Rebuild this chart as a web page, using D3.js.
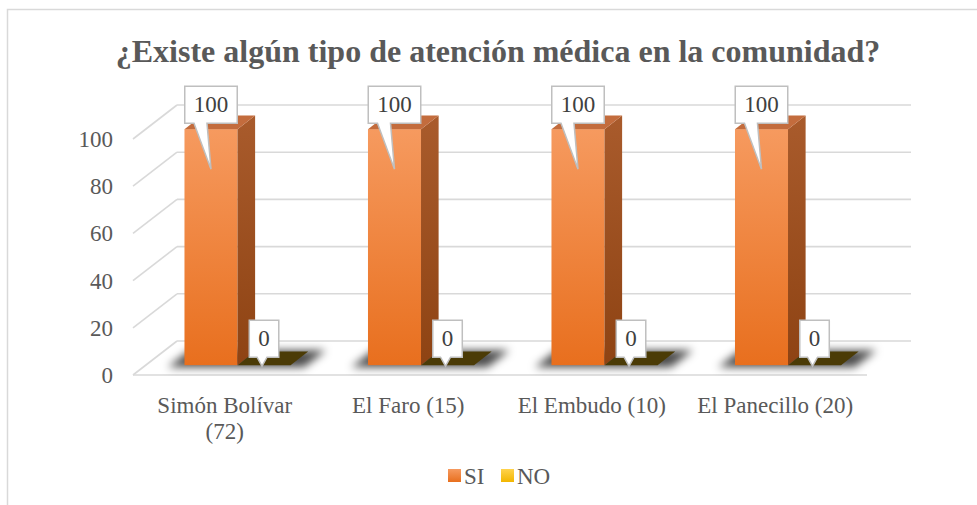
<!DOCTYPE html>
<html>
<head>
<meta charset="utf-8">
<script src="https://cdn.jsdelivr.net/npm/d3@7"></script>
<style>
  html, body { margin: 0; padding: 0; background: #fff; }
</style>
</head>
<body>
<div id="chart"></div>
<script>
// Chart data
const categories = ['Simón Bolívar (72)', 'El Faro (15)', 'El Embudo (10)', 'El Panecillo (20)']
const categoryLines = [['Simón Bolívar', '(72)'], ['El Faro (15)'], ['El Embudo (10)'], ['El Panecillo (20)']]
const seriesNames = ['SI', 'NO']
const siValues = [100, 100, 100, 100]
const noValues = [0, 0, 0, 0]
const yTicks = [0, 20, 40, 60, 80, 100]
const titleText = '¿Existe algún tipo de atención médica en la comunidad?'

// Layout
const W = 977, H = 505
const floor = {x0: 133, x1: 867, y: 375, dx: 44, dy: -34}
const barDepth = {t0: 0.29, t1: 0.69}
const serif = "'Liberation Serif', 'Times New Roman', 'DejaVu Serif', serif"
const fontSize = 23

const svg = d3.select('#chart').append('svg')
  .attr('width', W)
  .attr('height', H)
  .style('font-family', serif)

const defs = svg.append('defs')

function vGradient(id, top, bottom) {
  let g = defs.append('linearGradient').attr('id', id)
    .attr('x1', 0).attr('y1', 0).attr('x2', 0).attr('y2', 1)
  g.append('stop').attr('offset', '0%').attr('stop-color', top)
  g.append('stop').attr('offset', '100%').attr('stop-color', bottom)
}
vGradient('siFront', '#f69a5f', '#e86f1e')
vGradient('siSide', '#a95b2c', '#8e4313')
vGradient('noFront', '#ffd34d', '#f2b600')

defs.append('filter').attr('id', 'blur')
  .attr('x', '-50%').attr('y', '-50%').attr('width', '200%').attr('height', '200%')
  .append('feGaussianBlur').attr('stdDeviation', 4)

// frame
svg.append('rect')
  .attr('x', 7.5).attr('y', 9.5)
  .attr('width', 1100).attr('height', 700)
  .attr('fill', '#fff')
  .attr('stroke', '#d9d9d9')
  .attr('stroke-width', 1.5)

// title
svg.append('text')
  .attr('x', 498).attr('y', 62)
  .attr('text-anchor', 'middle')
  .attr('font-size', 32)
  .attr('font-weight', 'bold')
  .attr('fill', '#595959')
  .text(titleText)

// scales (front plane)
const y = d3.scaleLinear().domain([0, 100]).range([floor.y, 139])
const x = d3.scaleBand().domain(categories).range([floor.x0, floor.x1]).padding(0)
const xs = d3.scaleBand().domain(seriesNames).range([0, x.bandwidth()])
  .paddingInner(0).paddingOuter(0.73)

// point at depth t
const pt = (px, py, t) => [px + t * floor.dx, py + t * floor.dy]

// gridlines: side wall diagonals + back wall
const grid = svg.append('g').attr('stroke', '#d9d9d9').attr('stroke-width', 1.6).attr('fill', 'none')
yTicks.forEach(v => {
  let back = pt(floor.x0, y(v), 1)
  grid.append('line')
    .attr('x1', floor.x0).attr('y1', y(v))
    .attr('x2', back[0]).attr('y2', back[1])
  grid.append('line')
    .attr('x1', back[0]).attr('y1', back[1])
    .attr('x2', floor.x1 + floor.dx).attr('y2', back[1])
})
// floor front edge
grid.append('line')
  .attr('x1', floor.x0).attr('y1', floor.y)
  .attr('x2', floor.x1).attr('y2', floor.y)

// y tick labels
svg.append('g').selectAll('text')
  .data(yTicks)
  .enter()
  .append('text')
  .attr('x', 113)
  .attr('y', d => y(d) + 8)
  .attr('text-anchor', 'end')
  .attr('font-size', fontSize)
  .attr('fill', '#595959')
  .text(d => d)

// bar data
const bars = []
categories.forEach((c, i) => {
  bars.push({cat: c, series: 'SI', value: siValues[i]})
  bars.push({cat: c, series: 'NO', value: noValues[i]})
})

function barGeom(d) {
  let xa = x(d.cat) + xs(d.series)
  let xb = xa + xs.bandwidth()
  let a0 = pt(xa, y(0), barDepth.t0), b0 = pt(xb, y(0), barDepth.t0)
  let aV = pt(xa, y(d.value), barDepth.t0), bV = pt(xb, y(d.value), barDepth.t0)
  let ddx = (barDepth.t1 - barDepth.t0) * floor.dx
  let ddy = (barDepth.t1 - barDepth.t0) * floor.dy
  return {a0, b0, aV, bV, ddx, ddy}
}

const poly = pts => pts.map(p => p.join(',')).join(' ')

// shadows on floor
const shadows = svg.append('g').attr('filter', 'url(#blur)')
categories.forEach(c => {
  let xa = x(c) + xs('SI') - 14
  let xb = x(c) + xs('NO') + xs.bandwidth() + 16
  let p1 = pt(xa, y(0), barDepth.t0 - 0.06)
  let p2 = pt(xb, y(0), barDepth.t0 - 0.06)
  let p3 = pt(xb, y(0), barDepth.t1 + 0.04)
  let p4 = pt(xa, y(0), barDepth.t1 + 0.04)
  shadows.append('polygon')
    .attr('points', poly([p1, p2, p3, p4]))
    .attr('fill', '#000')
    .attr('opacity', 0.7)
})

// bars
const barG = svg.append('g')
bars.forEach(d => {
  let g = barGeom(d)
  if (d.value > 0) {
    barG.append('rect')
      .attr('x', g.aV[0]).attr('y', g.aV[1])
      .attr('width', g.bV[0] - g.aV[0])
      .attr('height', g.a0[1] - g.aV[1])
      .attr('fill', d.series === 'SI' ? 'url(#siFront)' : 'url(#noFront)')
    barG.append('polygon')
      .attr('points', poly([g.b0, g.bV, [g.bV[0] + g.ddx, g.bV[1] + g.ddy], [g.b0[0] + g.ddx, g.b0[1] + g.ddy]]))
      .attr('fill', 'url(#siSide)')
  }
  barG.append('polygon')
    .attr('points', poly([g.aV, g.bV, [g.bV[0] + g.ddx, g.bV[1] + g.ddy], [g.aV[0] + g.ddx, g.aV[1] + g.ddy]]))
    .attr('fill', d.value > 0 ? '#c36c3d' : '#4b3b06')
})

// callouts
const callG = svg.append('g')
bars.forEach(d => {
  let g = barGeom(d)
  let cx = (g.aV[0] + g.bV[0]) / 2
  let top = g.aV[1]
  let txt = String(d.value)
  let h = 37
  let bottom = top - (d.value > 0 ? 6 : 8)
  let box = callG.append('path')
  let label = callG.append('text')
    .attr('x', cx)
    .attr('y', bottom - 11)
    .attr('text-anchor', 'middle')
    .attr('font-size', fontSize)
    .attr('fill', '#404040')
    .text(txt)
  let w = label.node().getComputedTextLength() + 18
  let left = cx - w / 2, right = cx + w / 2
  let tipX = d.value > 0 ? cx : cx - 2
  let tipY = d.value > 0 ? top + 40 : top + 1
  let b1 = d.value > 0 ? cx - 17 : cx - 7
  let b2 = d.value > 0 ? cx - 4 : cx + 3
  let path = d3.path()
  path.moveTo(left, bottom - h)
  path.lineTo(right, bottom - h)
  path.lineTo(right, bottom)
  path.lineTo(b2, bottom)
  path.lineTo(tipX, tipY)
  path.lineTo(b1, bottom)
  path.lineTo(left, bottom)
  path.closePath()
  box.attr('d', path.toString())
    .attr('fill', '#fff')
    .attr('stroke', '#bfbfbf')
    .attr('stroke-width', 1.5)
    .attr('stroke-linejoin', 'miter')
})

// category labels
const catG = svg.append('g')
categories.forEach((c, i) => {
  let t = catG.append('text')
    .attr('text-anchor', 'middle')
    .attr('font-size', fontSize)
    .attr('fill', '#595959')
  categoryLines[i].forEach((line, j) => {
    t.append('tspan')
      .attr('x', x(c) + x.bandwidth() / 2)
      .attr('y', 413 + j * 26)
      .text(line)
  })
})

// legend
const legendColors = {SI: 'url(#siFront)', NO: 'url(#noFront)'}
const legendX = [448, 501]
const legend = svg.append('g').selectAll('g')
  .data(seriesNames)
  .enter()
  .append('g')
  .attr('transform', (d, i) => `translate(${legendX[i]}, 469)`)
legend.append('rect')
  .attr('width', 13).attr('height', 13)
  .attr('fill', d => legendColors[d])
legend.append('text')
  .attr('x', 16).attr('y', 15)
  .attr('font-size', fontSize)
  .attr('fill', '#595959')
  .text(d => d)
</script>
</body>
</html>
